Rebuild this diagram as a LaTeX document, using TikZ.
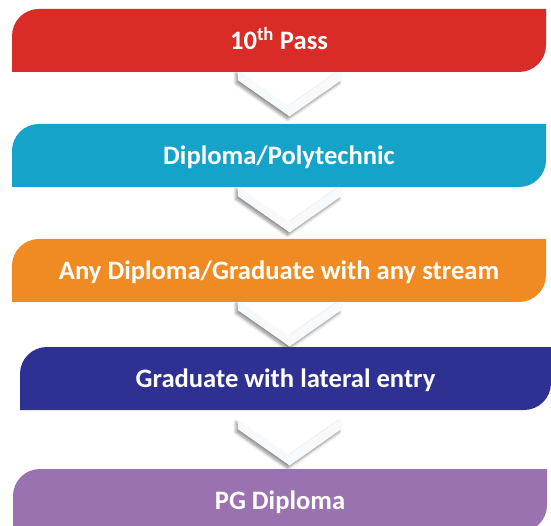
\documentclass[tikz,border=0pt]{standalone}
\usepackage{fontspec}
\setmainfont{Carlito}
\usetikzlibrary{calc,shadows.blur,backgrounds}
\definecolor{cRed}{HTML}{DA2C26}
\definecolor{cBlue}{HTML}{15A3C9}
\definecolor{cOrange}{HTML}{EF8B22}
\definecolor{cNavy}{HTML}{2E3192}
\definecolor{cPurple}{HTML}{9B72B0}
\definecolor{chevfill}{HTML}{F7FAFC}
\begin{document}
\begin{tikzpicture}[x=1pt,y=-1pt,
  stagebox/.style={minimum width=534pt, minimum height=63pt, inner sep=0pt, outer sep=0pt,
    text=white, font=\fontsize{26.6}{30}\selectfont\bfseries, text height=18pt, text depth=0pt,
    path picture={\fill[#1]
      (path picture bounding box.south west)
      -- ($(path picture bounding box.north west)+(0,27)$)
      .. controls +(0,-15) and +(-15,0) .. ($(path picture bounding box.north west)+(27,0)$)
      -- (path picture bounding box.north east)
      -- ($(path picture bounding box.south east)+(0,-27)$)
      .. controls +(0,15) and +(15,0) .. ($(path picture bounding box.south east)+(-27,0)$)
      -- cycle;}},
  chev/.pic={\fill[chevfill, draw=white, line width=0.4pt,
      blur shadow={shadow xshift=-2pt, shadow yshift=-3pt, shadow blur radius=3pt, shadow blur steps=6, shadow opacity=45}]
      (0,0) -- (-51.5,-36) -- (-51.5,-46) -- (0,-10) -- (51.5,-46) -- (51.5,-36) -- cycle;}
]
\path[use as bounding box] (0,0) rectangle (551,526);

\node[stagebox=cRed] (b1) at (279,40.5) {10\textsuperscript{th} Pass};
\node[stagebox=cBlue] (b2) at (279,155.5) {Diploma/Polytechnic};
\node[stagebox=cOrange] (b3) at (279,270.5) {Any Diploma/Graduate with any stream};
\node[stagebox=cNavy, minimum width=531pt] (b4) at (285.5,378.5) {Graduate with lateral entry};
\node[stagebox=cPurple] (b5) at (280,500.5) {PG Diploma};

\begin{pgfonlayer}{background}
  \pic at ($(b2.north)+(10.5,-8)$) {chev};
  \pic at ($(b3.north)+(10.5,-7)$) {chev};
  \pic at ($(b4.north)+(4,-1)$) {chev};
  \pic at ($(b5.north)+(9.5,-4)$) {chev};
\end{pgfonlayer}
\end{tikzpicture}
\end{document}
